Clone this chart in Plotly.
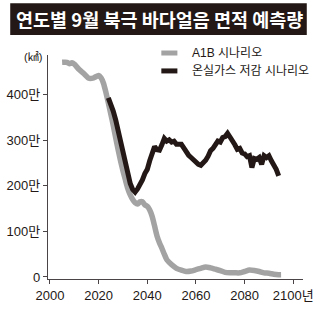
import plotly.graph_objects as go

# A1B scenario (unit: 만 km²)
a1b_years = [2005, 2007, 2008, 2009, 2010, 2012, 2014, 2016, 2018, 2020, 2021, 2022, 2023, 2024,
             2025, 2026, 2027, 2028, 2029, 2030, 2031, 2032, 2033, 2034, 2035, 2036, 2037, 2038,
             2039, 2040, 2041, 2042, 2043, 2044, 2045, 2046, 2047, 2048, 2049, 2050, 2052, 2054,
             2056, 2058, 2060, 2062, 2064, 2066, 2068, 2070, 2072, 2074, 2076, 2078, 2080, 2082,
             2084, 2086, 2088, 2090, 2092, 2094, 2095]
a1b_values = [471, 471, 468, 470, 467, 455, 446, 436, 437, 442, 437, 425, 405, 382,
              358, 333, 306, 280, 255, 233, 213, 194, 180, 170, 163, 160, 165, 165,
              158, 155, 147, 133, 112, 90, 75, 63, 50, 38, 32, 27, 19, 15,
              12, 13, 16, 19, 22, 20, 17, 14, 10, 9, 9, 9, 12, 15,
              14, 12, 9, 8, 6, 5, 5]

# GHG reduction scenario
ghg_years = list(range(2024, 2095))
ghg_values = [393, 380, 364, 345, 322, 298, 270, 248, 222, 205, 192, 186, 193, 202, 213, 227,
              236, 255, 268, 286, 279, 278, 290, 304, 298, 301, 296, 298, 291, 290, 291, 283,
              273, 267, 262, 256, 250, 247, 245, 250, 256, 265, 277, 282, 288, 298, 296, 306,
              308, 315, 307, 300, 290, 280, 282, 272, 270, 264, 266, 240, 260, 258, 262, 247,
              266, 262, 266, 255, 246, 236, 222]

x_ticks = [2000, 2020, 2040, 2060, 2080, 2100]
x_tick_labels = ["2000", "2020", "2040", "2060", "2080", "2100년"]
y_ticks = [0, 100, 200, 300, 400]
y_tick_labels = ["0", "100만", "200만", "300만", "400만"]

title_text = "연도별 9월 북극 바다얼음 면적 예측량"
legend_names = ["A1B 시나리오", "온실가스 저감 시나리오"]
colors = ["#a3a3a3", "#231815"]

FONT = "Liberation Sans, Noto Sans CJK KR, sans-serif"

fig = go.Figure()
fig.add_trace(go.Scatter(x=a1b_years, y=a1b_values, mode="lines", name=legend_names[0],
                         line=dict(color=colors[0], width=5.5, shape="spline", smoothing=0.6)))
fig.add_trace(go.Scatter(x=ghg_years, y=ghg_values, mode="lines", name=legend_names[1],
                         line=dict(color=colors[1], width=5)))

W, H = 320, 310
L, R, T, B = 43, 7, 55, 30
pw, ph = W - L - R, H - T - B

def px(x):
    return (x - L) / pw

def py(y):
    return (H - B - y) / ph

shapes = [
    dict(type="rect", xref="paper", yref="paper", x0=px(3), x1=px(317), y0=py(35), y1=py(3),
         fillcolor="#231815", line=dict(width=0), layer="below"),
    dict(type="line", xref="paper", yref="paper", x0=px(163), x1=px(180), y0=py(53), y1=py(53),
         line=dict(color=colors[0], width=5)),
    dict(type="line", xref="paper", yref="paper", x0=px(163), x1=px(180), y0=py(71), y1=py(71),
         line=dict(color=colors[1], width=5)),
]

annotations = [
    dict(text=title_text, xref="paper", yref="paper", x=px(161), y=py(19), showarrow=False,
         xanchor="center", yanchor="middle",
         font=dict(family="Noto Sans CJK KR", size=18.5, color="white", weight="bold")),
    dict(text="(㎢)", xref="paper", yref="paper", x=px(27), y=py(57), showarrow=False,
         xanchor="center", yanchor="middle", font=dict(family=FONT, size=11, color="#231815")),
    dict(text=legend_names[0], xref="paper", yref="paper", x=px(193), y=py(53), showarrow=False,
         xanchor="left", yanchor="middle", font=dict(family=FONT, size=12, color="#231815")),
    dict(text=legend_names[1], xref="paper", yref="paper", x=px(193), y=py(71), showarrow=False,
         xanchor="left", yanchor="middle", font=dict(family=FONT, size=12, color="#231815")),
]

fig.update_layout(
    width=W, height=H, margin=dict(l=L, r=R, t=T, b=B),
    paper_bgcolor="white", plot_bgcolor="white",
    showlegend=False, shapes=shapes, annotations=annotations,
    font=dict(family=FONT, size=13, color="#231815"),
    xaxis=dict(range=[1999.2, 2104], tickvals=x_ticks, ticktext=x_tick_labels,
               ticklabeloverflow="allow",
               showgrid=False, zeroline=False, showline=True, linecolor="#4a4446", linewidth=1.3,
               ticks="outside", ticklen=4, tickcolor="#4a4446", tickfont=dict(size=13)),
    yaxis=dict(range=[-4.5, 487], tickvals=y_ticks, ticktext=y_tick_labels,
               showgrid=False, zeroline=False, showline=True, linecolor="#4a4446", linewidth=1.3,
               ticks="outside", ticklen=4, tickcolor="#4a4446", tickfont=dict(size=13)),
)

fig.write_html("out.html")
